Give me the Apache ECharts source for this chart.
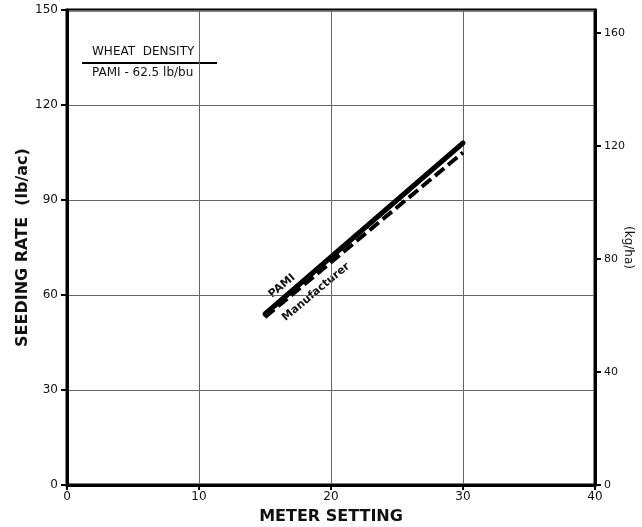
<!DOCTYPE html>
<html>
<head>
<meta charset="utf-8">
<script src="https://cdn.jsdelivr.net/npm/echarts@6/dist/echarts.min.js"></script>
<style>
html,body{margin:0;padding:0;background:#fff;}
#c{width:642px;height:527px;}
</style>
</head>
<body>
<div id="c"></div>
<script>
// Data
var pamiX = [15, 30];
var pamiY = [54, 108];
var mfrX = [15, 30];
var mfrY = [53, 105];
var xTicks = [0, 10, 20, 30, 40];
var yTicks = [0, 30, 60, 90, 120, 150];
var kgTicks = [0, 40, 80, 120, 160];
var LB_TO_KG = 1.12085;

var font = 'DejaVu Sans';
var chart = echarts.init(document.getElementById('c'), null, {renderer: 'canvas'});

function pairs(xs, ys) { return xs.map(function (x, i) { return [x, ys[i]]; }); }

var option = {
  backgroundColor: '#fff',
  animation: false,
  grid: {left: 67, right: 47, top: 10, bottom: 42, show: true, borderColor: '#000', borderWidth: 3,
         containLabel: false, outerBoundsMode: 'none'},
  xAxis: {
    type: 'value', min: 0, max: 40, interval: 10,
    name: 'METER SETTING', nameLocation: 'middle', nameGap: 24, nameMoveOverlap: false,
    nameTextStyle: {fontFamily: font, fontSize: 16, fontWeight: 'bold', color: '#111'},
    axisLine: {show: true, lineStyle: {color: '#000', width: 3}},
    axisTick: {show: true, length: 5, lineStyle: {color: '#000', width: 2}},
    axisLabel: {fontFamily: font, fontSize: 12, color: '#111', margin: 6},
    splitLine: {show: true, lineStyle: {color: '#666', width: 1}}
  },
  yAxis: [{
    type: 'value', min: 0, max: 150, interval: 30,
    name: 'SEEDING RATE  (lb/ac)', nameLocation: 'middle', nameGap: 36, nameMoveOverlap: false,
    nameTextStyle: {fontFamily: font, fontSize: 16, fontWeight: 'bold', color: '#111'},
    axisLine: {show: true, lineStyle: {color: '#000', width: 3}},
    axisTick: {show: true, length: 6, lineStyle: {color: '#000', width: 2}},
    axisLabel: {fontFamily: font, fontSize: 12, color: '#111', margin: 9},
    splitLine: {show: true, lineStyle: {color: '#666', width: 1}}
  }, {
    type: 'value', position: 'right', min: 0, max: 150 * LB_TO_KG, interval: 40,
    name: '(kg/ha)', nameLocation: 'middle', nameGap: 27, nameRotate: -90, nameMoveOverlap: false,
    nameTextStyle: {fontFamily: font, fontSize: 12, color: '#111'},
    axisLine: {show: true, lineStyle: {color: '#000', width: 3}},
    axisTick: {show: true, length: 6, customValues: kgTicks, lineStyle: {color: '#000', width: 2}},
    axisLabel: {fontFamily: font, fontSize: 11, color: '#111', margin: 9, customValues: kgTicks},
    splitLine: {show: false}
  }],
  series: [{
    name: 'PAMI', type: 'line', data: pairs(pamiX, pamiY),
    showSymbol: false, symbol: 'none',
    lineStyle: {color: '#000', width: 5, cap: 'round'}, z: 3
  }, {
    name: 'Manufacturer', type: 'line', data: pairs(mfrX, mfrY),
    showSymbol: false, symbol: 'none',
    lineStyle: {color: '#000', width: 4, type: [12, 5]}, z: 2
  }],
  graphic: [
    {type: 'text', left: 92, top: 46, style: {text: 'WHEAT  DENSITY', font: '12px "DejaVu Sans"', fill: '#111'}},
    {type: 'line', shape: {x1: 82, y1: 63, x2: 217, y2: 63}, style: {stroke: '#000', lineWidth: 2}},
    {type: 'text', left: 92, top: 67, style: {text: 'PAMI - 62.5 lb/bu', font: '12px "DejaVu Sans"', fill: '#111'}},
    {type: 'text', x: 282, y: 286, rotation: 40 * Math.PI / 180,
     style: {text: 'PAMI', font: 'bold 11px "DejaVu Sans"', fill: '#111', align: 'center', verticalAlign: 'middle'}},
    {type: 'text', x: 316, y: 292, rotation: 40 * Math.PI / 180,
     style: {text: 'Manufacturer', font: 'bold 11px "DejaVu Sans"', fill: '#111', align: 'center', verticalAlign: 'middle'}}
  ]
};
chart.setOption(option);
</script>
</body>
</html>
